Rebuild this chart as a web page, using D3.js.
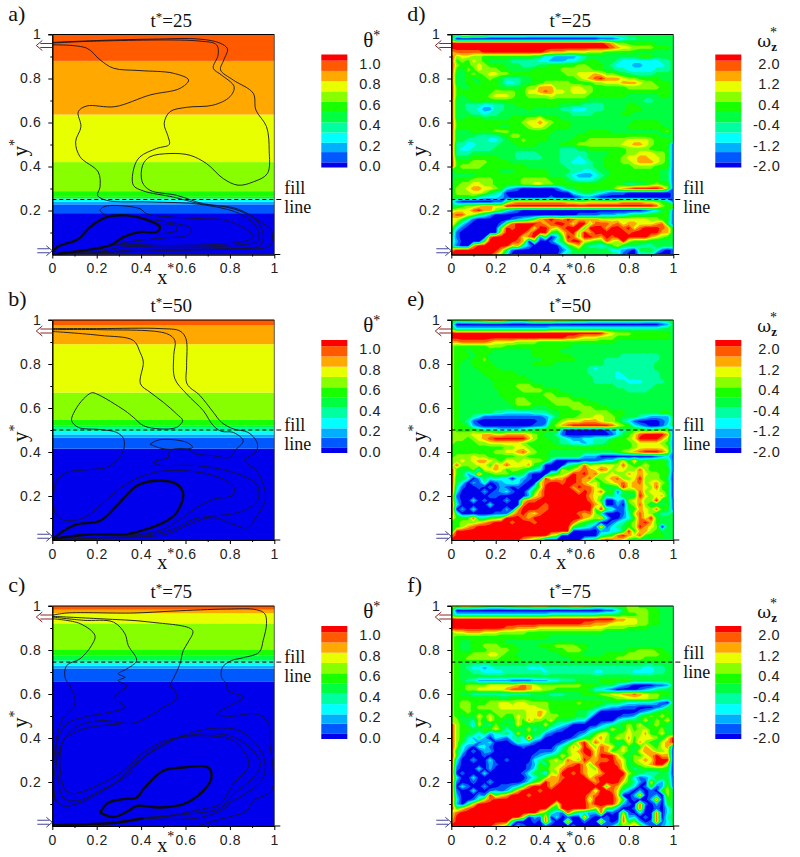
<!DOCTYPE html>
<html>
<head>
<meta charset="utf-8">
<script src="https://cdn.jsdelivr.net/npm/d3@7"></script>
<style>
  html, body { margin: 0; background: #fff; }
  svg { display: block; }
  .num { font-family: "Liberation Sans", sans-serif; font-size: 14px; fill: #222; letter-spacing: 0.6px; }
  .serif { font-family: "Liberation Serif", serif; fill: #111; }
</style>
</head>
<body>
<svg id="chart" width="800" height="857"></svg>
<script>
// colour levels, bottom to top of the colourbars
const levelColors = ['#0000ec', '#0058ff', '#00b0ff', '#00ffff', '#00ffa0', '#00ff40',
  '#18ff00', '#88ff00', '#e8ff00', '#ffa800', '#ff5a00', '#ff0000'];
const levelEdges = [-0.01, 0.04, 0.14, 0.23, 0.33, 0.43, 0.53, 0.63, 0.73, 0.83, 0.93, 1.03, 1.09];
const thetaTicks = [0, 0.2, 0.4, 0.6, 0.8, 1];
const thetaLabels = ['0.0', '0.2', '0.4', '0.6', '0.8', '1.0'];
const omegaLabels = ['-2.0', '-1.2', '-0.4', '0.4', '1.2', '2.0'];

// theta bands: upper y of each colour level
const bandsA = [0.188, 0.228, 0.24, 0.25, 0.255, 0.262, 0.288, 0.42, 0.636, 0.88, 1];
const bandsB = [0.415, 0.465, 0.48, 0.495, 0.51, 0.52, 0.546, 0.67, 0.89, 0.975, 1];
const bandsC = [0.655, 0.716, 0.728, 0.743, 0.754, 0.774, 0.803, 0.921, 0.967, 0.983, 1];

// streamlines [x, y]
const linesA = [
  [[0,.964],[.215,.973],[.455,.979],[.665,.979],[.755,.961],[.789,.935],[.773,.885],[.758,.839],[.815,.793],[.905,.733],[.917,.657],[.965,.581],[.977,.474],[.969,.368],[.905,.33],[.837,.315],[.77,.345],[.695,.413],[.62,.451],[.53,.459],[.44,.444],[.407,.406],[.405,.33],[.44,.292],[.56,.269],[.68,.231],[.815,.213],[.882,.185],[.95,.14],[.987,.109],[.98,.041],[.815,.026],[.515,.018],[.29,.011],[.065,.003],[0,0]],
  [[0,.961],[.2,.97],[.665,.97],[.74,.953],[.747,.907],[.725,.847],[.762,.816],[.819,.763],[.8,.717],[.725,.679],[.605,.669],[.53,.649],[.504,.596],[.522,.535],[.527,.5],[.47,.482],[.395,.444],[.369,.398],[.365,.315],[.41,.289],[.545,.261],[.665,.231],[.815,.208],[.92,.155],[.95,.094],[.935,.041],[.74,.026],[.365,.021],[.215,.008],[0,0]],
  [[0,.953],[.155,.938],[.215,.885],[.275,.847],[.395,.836],[.545,.824],[.614,.793],[.575,.755],[.44,.725],[.282,.672],[.155,.675],[.117,.649],[.129,.581],[.105,.512],[.125,.444],[.207,.375],[.215,.307],[.204,.269],[.245,.246],[.44,.239],[.665,.228],[.845,.185],[.92,.125],[.927,.064],[.815,.041],[.515,.033],[.335,.036],[.215,.015],[.005,.003]],
  [[.252,.173],[.215,.2],[.23,.216],[.275,.223],[.395,.208],[.425,.185],[.545,.17],[.665,.163],[.785,.155],[.882,.109],[.905,.079],[.845,.056],[.515,.041],[.335,.046],[.26,.041]],
  [[.41,.163],[.545,.143],[.627,.117],[.605,.087],[.515,.076],[.365,.061],[.26,.041]],
  [[.485,.14],[.552,.132],[.56,.109],[.47,.094]]
];
const thickA = [[.005,.011],[.02,.033],[.117,.071],[.17,.125],[.245,.17],[.335,.178],[.41,.163],[.485,.125],[.47,.102],[.395,.102],[.32,.079],[.26,.041],[.14,.018],[.02,.003]];

const linesB = [
  [[0,.961],[.215,.961],[.485,.961],[.575,.95],[.602,.915],[.605,.793],[.607,.71],[.665,.657],[.725,.581],[.762,.535],[.815,.505],[.882,.489],[.922,.444],[.92,.406],[.867,.36],[.92,.315],[.957,.231],[.957,.17],[.92,.109],[.882,.056],[.815,.071],[.725,.102],[.635,.079],[.515,.026],[.41,.015],[.215,.008],[0,.003]],
  [[0,.956],[.215,.956],[.515,.938],[.552,.907],[.547,.839],[.552,.733],[.605,.664],[.68,.588],[.725,.52],[.762,.494],[.815,.489],[.86,.451],[.822,.406],[.8,.375],[.725,.383],[.65,.391],[.605,.413],[.53,.406],[.522,.375],[.462,.357],[.462,.345],[.665,.337],[.815,.307],[.92,.254],[.927,.185],[.875,.14],[.8,.117],[.725,.109],[.635,.094],[.545,.049],[.41,.021],[.215,.011],[0,0]],
  [[.44,.436],[.485,.456],[.605,.444],[.632,.421],[.545,.413],[.485,.418],[.44,.436]],
  [[0,.948],[.215,.93],[.365,.907],[.395,.854],[.41,.809],[.397,.71],[.44,.672],[.5,.626],[.56,.573],[.587,.543],[.56,.512],[.485,.505],[.41,.52],[.365,.558],[.327,.588],[.2,.664],[.177,.669],[.14,.641],[.102,.588],[.087,.543],[.117,.512],[.215,.502],[.29,.489],[.322,.459],[.32,.406],[.29,.36],[.245,.33],[.155,.319],[.065,.307],[.02,.269],[.005,.185],[.02,.109],[.08,.087],[.155,.109],[.23,.17],[.32,.246],[.41,.292],[.515,.315],[.665,.307],[.785,.269],[.822,.231],[.807,.201],[.725,.185],[.65,.147],[.575,.094],[.5,.049],[.395,.026],[.215,.026],[.065,.011],[0,0]]
];
const thickB = [[.005,.006],[.05,.041],[.11,.071],[.215,.087],[.29,.155],[.38,.246],[.47,.269],[.56,.254],[.59,.208],[.56,.125],[.515,.087],[.425,.049],[.335,.026],[.185,.026],[.065,.015],[.005,.003]];

const linesC = [
  [[0,.958],[.065,.968],[.365,.968],[.545,.977],[.785,.986],[.92,.983],[.957,.965],[.965,.92],[.95,.844],[.932,.79],[.86,.765],[.807,.752],[.767,.722],[.762,.676],[.785,.646],[.792,.616],[.862,.585],[.815,.555],[.74,.509],[.8,.499],[.92,.509],[.972,.471],[.98,.372],[.995,.251],[.987,.16],[.905,.114],[.875,.068],[.815,.046],[.725,.023],[.665,.003]],
  [[0,.953],[.215,.942],[.44,.927],[.632,.889],[.612,.836],[.59,.798],[.575,.737],[.545,.669],[.53,.638],[.552,.616],[.56,.578],[.5,.54],[.44,.502],[.365,.467],[.215,.479],[.102,.448],[.05,.388],[.02,.296],[.005,.19],[.012,.129],[.05,.091],[.125,.106],[.215,.152],[.305,.213],[.38,.289],[.485,.357],[.605,.418],[.74,.445],[.845,.433],[.92,.372],[.957,.296],[.95,.22],[.89,.16],[.8,.106],[.77,.076],[.665,.038],[.515,.03],[.41,.035],[.29,.015],[0,.003]],
  [[0,.95],[.14,.935],[.275,.927],[.327,.874],[.342,.821],[.38,.752],[.335,.714],[.297,.692],[.327,.676],[.297,.661],[.335,.638],[.282,.585],[.327,.54],[.26,.517],[.14,.494],[.065,.464],[.02,.372],[.027,.22],[.05,.129],[.11,.114],[.215,.16],[.335,.228],[.41,.312],[.53,.388],[.665,.418],[.8,.41],[.89,.357],[.937,.281],[.905,.22],[.815,.144],[.755,.081],[.605,.053],[.41,.035]],
  [[0,.942],[.125,.92],[.192,.866],[.177,.821],[.125,.76],[.065,.73],[.057,.676],[.087,.623],[.102,.555],[.05,.494],[.02,.403],[.005,.251],[.012,.114]],
  [[.05,.175],[.087,.147],[.215,.19],[.32,.251],[.41,.334],[.53,.395],[.695,.41],[.815,.388],[.882,.304],[.882,.266],[.815,.19],[.755,.099],[.695,.081],[.515,.046],[.41,.038],[.215,.008]],
  [[.05,.175],[.035,.266],[.05,.388],[.117,.433],[.215,.456],[.3,.462]]
];
const thickC = [[.215,.061],[.252,.106],[.32,.122],[.38,.129],[.41,.167],[.5,.251],[.59,.266],[.702,.266],[.717,.22],[.68,.16],[.59,.099],[.485,.084],[.38,.091],[.342,.068],[.275,.041],[.215,.061]];
const floorC = [[0,.003],[.14,.008],[.29,.015],[.41,.035]];

// vorticity level per grid node (0-b), rows from y=1 down to y=0 in 0.02 steps, x in 0.025 steps
const omegaD = [
"6699888666 6666555555 5555555555 5555555555 6",
"5000000000 0000000000 0000000111 2344555555 5",
"bbbbbbbbbb bbbbbbbbbb bbbbbbbba9 7766666555 5",
"bbbbbbbbbb bbbbbbbbbb bbbbbbbbba 9887777666 5",
"9aaaaabbbb bbbbbbba99 9888877766 6666555555 5",
"b788776666 6666655332 2223455555 5555666555 5",
"b676876555 5444443322 2334566555 4333333344 5",
"b766787666 5554445566 6667766654 3332233334 5",
"b657687776 6555566666 7777776655 4433333444 5",
"b556767887 7666666666 6778889877 6554444555 5",
"b556566765 4445566666 666789ab99 9877666655 5",
"b556656665 3345566777 7766667788 8999877666 5",
"b655666665 5556779997 7788776666 6677777766 5",
"b666666677 7766889a98 8788876666 6666666666 5",
"b656666788 8766777787 7777766666 6655555566 5",
"b555666666 6666666666 6666655555 5555544555 5",
"b554443344 5566666666 5555444455 5566555555 5",
"b554432244 5555655555 4433344455 5566655555 5",
"b555443445 5555555555 5544445555 5665555555 5",
"b556665555 5666778666 5555555555 5555555555 5",
"b666666666 6667889876 6655555555 5556666655 5",
"b666666665 5666788766 6655555555 5566666665 5",
"b555666677 7666666665 5555566665 5555555567 5",
"b555544445 6776666655 5556666666 6666666655 5",
"b554444334 5667666655 5566677777 7788887666 5",
"b443344445 5566665555 6667777777 7889987666 1",
"b433444455 5555555555 4445566666 6677776666 1",
"b444555555 5544445555 4444455556 6677888776 1",
"b555666665 5544444555 4443455566 6788998876 1",
"b666777666 6555555555 4433345566 6778999876 1",
"b677776666 6666555555 5444445566 6667777666 1",
"5666666665 5566666655 5544334556 6666666655 1",
"5555566666 6666666655 5432223456 6666666655 1",
"5666777766 6667777766 6543334566 6666666655 1",
"5677887766 6667788776 6666666666 6544556766 1",
"5778998876 3210000001 3556666666 89abbbbba7 1",
"5777887543 0000000000 0034554321 1100000000 1",
"6666643332 1000000010 0001221000 0000000000 1",
"4100000011 5899999999 9887788888 8999988765 1",
"5567789988 bbbbbbbbbb bbbbbbbbbb bbbbbbba76 7",
"7888ab9976 3210000000 0000000000 0000012356 1",
"9aa8754200 0000000000 0001111222 3345556666 1",
"8864100000 0123469aba 9ba9999888 8888887766 1",
"9631000001 6abbbba9ab ba8bb7aaa9 a8998889a5 1",
"7310000006 babbb8bb98 abbb6bbb9b bab8abbba9 5",
"6100000008 bbbb9bbb65 8ab7b9bbbb bbabbbbb99 5",
"5100000abb bbb8ab2602 6ba7bba9ba bbbbbb9876 5",
"4200006bbb bba9060014 5abb8766a8 7b76665555 5",
"41009bbbbb b894200000 3579544346 8555444555 5",
"9bbbbbbbb9 5100000000 1356555553 3210555410 1",
"bbbbbbbb97 3000000000 3455555555 4100344000 1"
];
const omegaE = [
"6677889aaa 8666899998 8877766666 6666655555 5",
"5000000000 0000000000 0000000000 0000000012 5",
"6333333333 3333333344 4444444444 4444444455 5",
"bbbbbbbbbb bbbbbbbbbb bbbbbbbb98 7776666666 5",
"bbbbbbbbbb bbbbbbbbbb baa9888777 6666666666 5",
"99aaaaa988 8877776666 6666666666 5555555555 5",
"7666666777 6666666666 6655555555 5555555555 5",
"7665666655 5555566666 5555555555 5555555555 5",
"7666566555 5555566666 6655555555 5444444455 5",
"7665667555 5555555666 6665555544 4444444455 5",
"7655666655 5555566665 5555555544 4444444555 5",
"7655566665 5555555555 5555543444 4444444555 5",
"7655556666 6655555555 5555544444 3444444455 5",
"7655555666 6666555555 5555554444 3344444455 5",
"7655555566 6666655555 5555554444 4433344445 5",
"7655555566 6677766555 5555555555 4444444555 5",
"7655555556 6667777666 5555555555 5544445555 5",
"7655555556 6666666776 6655555555 5555555555 5",
"7655555555 6677666677 7766655555 5555555555 5",
"7655555555 5677766667 7777666555 5555555555 5",
"7655555555 5566655566 6677776665 5555555555 5",
"7655555544 3333344455 6666777776 6655555566 5",
"7655431111 1111111235 6667778877 6555432222 5",
"7654100000 0000001156 7888999877 6431000012 5",
"7665210000 0000011267 9abbbbbbba 8763210013 5",
"7666654443 3334556666 2000000012 3456655666 1",
"7777889988 9999876554 1000000001 3568abbbb9 1",
"7776789abb bbbb976655 4322334445 6678bbbb97 1",
"7666677888 8887666665 4433234456 6667888876 1",
"6666666666 7788766666 6666666666 6667888887 1",
"6666666677 889a876655 5555555555 6789abbba8 1",
"6777877666 6677666655 5555222000 0000000123 1",
"7787899876 8878877630 0000111233 6859566665 1",
"7a77788698 a888965000 0456a78888 7a76686665 1",
"b655738898 6776543000 8679a98a97 8877a76666 1",
"b6524a5677 7655100056 78bab9a778 7798987766 0",
"b554025343 3032100b89 9bba9a6789 a778b77765 0",
"b530214012 3431008abb abba978678 9a89a78976 0",
"b410010102 1010047bbb bb9baa8655 6b89987a66 0",
"b300002012 3100369bbb bbb9ba8a66 1566a78876 0",
"a100000110 0000289bbb bbbbb98745 3655b87896 0",
"a200301000 2008aabbbb bbbbba8600 3178977b56 1",
"b300000300 000abbbabb bbbbbb9800 2067a75556 1",
"b020300000 209bbbaabb bbbbbb6b54 1156987a66 1",
"b400000011 18ab98abbb bbba9a7300 0148a87544 5",
"9666a44667 bbba9bbbbb bbbb987a30 0236a8b655 5",
"6677789abb babbbabbbb bba7654001 3467ab9655 5",
"6679abbbbb bbbbbbbbbb bb65431a13 4567b98705 5",
"4bbbbbbbbb bbbbbbbbbb bb00000223 35b6997655 5",
"9bbbbbbbbb bbbbbbbb87 0000000456 ab98a66665 5",
"bbbbbbbbbb bbb9865000 0000456aba 9865555555 5"
];
const omegaF = [
"7799887666 7788899977 8899886666 6677666555 5",
"6000000000 0000000000 0000000011 3577776655 5",
"5333333333 3333333344 4444444555 5666776655 5",
"bbbbbbbbbb bbbbbbbbbb bbbbbbbbbb 9988776655 5",
"bbbbbbbbbb bbbbbbbbbb bbbbaa9998 8888776655 5",
"bbbbbbbbbb aa99998888 8888888877 7766665555 5",
"7889998887 7777666666 6666666655 5555555555 5",
"7666666666 6666666655 5555555555 5555555555 5",
"7655666666 5555555555 5555555555 5555555555 5",
"7655667776 6655556667 7776655555 5555555555 5",
"7655666777 7665555566 6777655555 5566777665 5",
"7666777887 6655555555 6666555566 6677777766 5",
"7667777776 6665555555 5566666666 7777766666 5",
"7655555555 5555555555 5555555555 5555555555 5",
"7654332344 4444333444 4444444444 4444433445 5",
"7655443333 4444444344 4444443344 4443333445 5",
"7655555555 5555555555 5555555555 5555555555 5",
"7654422222 2111122233 4445555666 6665555555 5",
"7667777888 889a987777 7777666555 3210000112 5",
"7667788888 9aaa988776 6666653321 0000123455 5",
"7655444444 4444455544 4555666778 899a987766 5",
"7666666665 5666655555 5555555566 7788887755 5",
"7677666778 8788777766 6667666655 5433333210 5",
"7677677778 8888887766 6666665432 2111000125 5",
"7667666677 7777889866 6665543000 0000123566 5",
"7656586867 6687889777 6665530000 0112567676 5",
"7755475866 5586977685 5543300000 3455585768 5",
"b765285475 6586565854 3200000234 5676856765 5",
"b766556686 3655845532 1000023458 6586786675 5",
"b765535234 5385655210 0001246885 6787796685 5",
"b764252032 1443b43000 0013568976 8796888758 b",
"b753412300 0143310000 1369b7a876 5586976589 b",
"b732033100 0001000002 4697b97a98 5865697689 1",
"b530102200 0000001113 5789bb8a96 7865899778 0",
"b610001000 0000012345 8688ab8bbb 8657689b99 0",
"b300200300 1000034678 6a87b99aab 9857898bbb 0",
"b200000210 0000126477 89ab97abbb a856789bb7 0",
"b100030200 0000136678 9bbb987bbb b864566666 0",
"b010003000 0001355287 bbab9889bb bb76544455 0",
"b300300000 0000235799 abbbb8abbb ba63123655 1",
"b100100200 0001367b99 bbbbbb9bbb b864208426 1",
"b031002001 1236abbb9b bbbbbbbb6a 9653016127 1",
"b100300121 259bbbabbb bbbbbb7bba 8420201067 5",
"b200021b68 9bbbabbbbb bbbbb9abbb 8002a01207 5",
"b300148abb bbbbbbbbbb bbbbb7bbbb 9601002a06 5",
"b2048bbbbb bbbbbbbbb7 bbbbb9bbbb 8210a10205 5",
"b68abbbbbb bbbbbbbb65 bbbbb97a65 2001a00103 5",
"8abbbbbbbb bbbbbb8642 1a64322a01 0810300a03 5",
"8bbbbbbbbb bbb8021a03 0100a10010 0a23010a04 5",
"9bbbbbbbbb b400010a20 0a00100a10 1a57201a13 5",
"bbbbbbbb98 6021000100 0010000012 5789731023 5"
];

const svg = d3.select('#chart');
const w = 222, h = 220;
const x = d3.scaleLinear().domain([0, 1]).range([0, w]);
const y = d3.scaleLinear().domain([0, 1]).range([h, 0]);
const line = d3.line().x(d => x(d[0])).y(d => y(d[1])).curve(d3.curveCatmullRom.alpha(0.5));
const barY = d3.scaleLinear().domain([-0.01, 1.09]).range([133, 20]);

// grid nodes sit at cell centres in d3.contours
const cols = 41, rows = 51;
const gx = d3.scaleLinear().domain([0.5, cols - 0.5]).range([0, w]);
const gy = d3.scaleLinear().domain([0.5, rows - 0.5]).range([0, h]);
const gridPath = d3.geoPath(d3.geoTransform({
  point(a, b) { this.stream.point(gx(a), gy(b)); }
}));

function drawField(g, grid) {
  const values = grid.join('').replace(/ /g, '').split('').map(c => parseInt(c, 16));
  const thresholds = d3.range(0.5, 11, 1);
  const contours = d3.contours().size([cols, rows]).smooth(true).thresholds(thresholds)(values);
  g.append('rect').attr('width', w).attr('height', h).attr('fill', levelColors[0]);
  g.selectAll('path.field').data(contours).join('path')
    .attr('class', 'field')
    .attr('d', gridPath)
    .attr('fill', (d, i) => levelColors[i + 1]);
}

function drawBands(g, bands) {
  g.selectAll('rect.band').data(bands).join('rect')
    .attr('class', 'band')
    .attr('x', 0)
    .attr('width', w)
    .attr('y', d => y(d))
    .attr('height', (d, i) => y(i ? bands[i - 1] : 0) - y(d))
    .attr('fill', (d, i) => levelColors[i]);
}

function drawArrows(g) {
  const inlet = d3.path();
  const yr = y(0.95);
  inlet.moveTo(x(0), yr - 2); inlet.lineTo(-12, yr - 2);
  inlet.moveTo(x(0), yr + 2); inlet.lineTo(-12, yr + 2);
  inlet.moveTo(-10, yr - 5); inlet.lineTo(-16, yr); inlet.lineTo(-10, yr + 5);
  g.append('path').attr('d', inlet.toString()).attr('fill', 'none').attr('stroke', '#7a1010').attr('stroke-width', 0.9);

  const outlet = d3.path();
  const yb = y(0.017);
  outlet.moveTo(-15, yb - 2); outlet.lineTo(-3, yb - 2);
  outlet.moveTo(-15, yb + 2); outlet.lineTo(-3, yb + 2);
  outlet.moveTo(-6, yb - 5); outlet.lineTo(0, yb); outlet.lineTo(-6, yb + 5);
  g.append('path').attr('d', outlet.toString()).attr('fill', 'none').attr('stroke', '#30308c').attr('stroke-width', 0.9);
}

function drawAxes(g) {
  const fmt = d => (d === 0 || d === 1 ? String(d) : d3.format('.1f')(d));
  const majors = [0, 0.2, 0.4, 0.6, 0.8, 1];
  const minors = d3.range(1, 10, 2).map(d => d / 10);

  g.append('g').attr('transform', `translate(0,${h})`)
    .call(d3.axisBottom(x).tickValues(minors).tickSize(2).tickSizeOuter(0).tickFormat(''));
  g.append('g').call(d3.axisLeft(y).tickValues(minors).tickSize(2).tickSizeOuter(0).tickFormat(''));

  const bottom = g.append('g').attr('transform', `translate(0,${h})`)
    .call(d3.axisBottom(x).tickValues(majors).tickSize(4).tickPadding(5).tickSizeOuter(0).tickFormat(fmt));
  const left = g.append('g')
    .call(d3.axisLeft(y).tickValues(majors.slice(1)).tickSize(4).tickPadding(7).tickSizeOuter(0).tickFormat(fmt));
  [bottom, left].forEach(a => {
    a.selectAll('text').attr('class', 'num').attr('fill', null).attr('font-size', null).attr('font-family', null);
    a.selectAll('line,path').attr('stroke', '#000');
  });

  g.append('line').attr('x1', w).attr('x2', w + 6).attr('y1', h).attr('y2', h).attr('stroke', '#000');
  g.append('line').attr('x1', 0).attr('x2', w).attr('y1', 0).attr('y2', 0).attr('stroke', '#000');
  g.append('line').attr('x1', w).attr('x2', w).attr('y1', 0).attr('y2', h).attr('stroke', '#222').attr('stroke-width', 0.7);
  g.append('line').attr('x1', -4).attr('x2', 0).attr('y1', 0).attr('y2', 0).attr('stroke', '#000');
}

function drawColorbar(g, labels, isOmega) {
  const barX = isOmega ? 264 : 269;
  for (let i = 0; i < levelColors.length; i++) {
    g.append('rect')
      .attr('x', barX)
      .attr('width', 26)
      .attr('y', barY(levelEdges[i + 1]))
      .attr('height', barY(levelEdges[i]) - barY(levelEdges[i + 1]))
      .attr('fill', levelColors[i]);
  }
  g.selectAll('text.barlabel').data(thetaTicks).join('text')
    .attr('class', 'num barlabel')
    .attr('x', 329)
    .attr('y', d => barY(d) + 5)
    .attr('text-anchor', 'end')
    .style('font-size', '14.5px')
    .text((d, i) => labels[i]);

  const title = g.append('text').attr('class', 'serif').attr('y', 12).style('font-size', '20px');
  if (isOmega) {
    title.attr('x', 306);
    title.append('tspan').text('\u03c9').style('font-family', '"DejaVu Serif", serif').style('font-size', '17px');
    title.append('tspan').text('z').attr('dy', 4).style('font-size', '13px').style('font-weight', 'bold');
    title.append('tspan').text('*').attr('dy', -14).attr('dx', -7).style('font-size', '14px');
  } else {
    title.attr('x', 311);
    title.append('tspan').text('\u03b8').style('font-size', '21px');
    title.append('tspan').text('*').attr('dy', -7).style('font-size', '14px');
  }
}

function drawText(g, p) {
  g.append('text').attr('class', 'serif').attr('x', -44).attr('y', -14).style('font-size', '22px').text(p.letter);

  const title = g.append('text').attr('class', 'serif').attr('x', 119).attr('y', -8)
    .attr('text-anchor', 'middle').style('font-size', '19px');
  title.append('tspan').text('t');
  title.append('tspan').text('*').attr('dy', -6).style('font-size', '13px');
  title.append('tspan').text('=' + p.time).attr('dy', 6);

  const xl = g.append('text').attr('class', 'serif').attr('x', 105).attr('y', h + p.xDy).style('font-size', '20px');
  xl.append('tspan').text('x');
  xl.append('tspan').text('*').attr('dy', -11).style('font-size', '14px');

  const yl = g.append('text').attr('class', 'serif')
    .attr('transform', `translate(-25,${h / 2 + 12}) rotate(-90)`).style('font-size', '21px');
  yl.append('tspan').text('y');
  yl.append('tspan').text('*').attr('dy', -8).style('font-size', '14px');

  const yFill = y(p.fill);
  g.append('line').attr('x1', 0).attr('x2', w).attr('y1', yFill).attr('y2', yFill)
    .attr('stroke', '#000').attr('stroke-dasharray', '4,3');
  g.append('line').attr('x1', w + 2).attr('x2', w + 7).attr('y1', yFill).attr('y2', yFill).attr('stroke', '#000');
  g.append('text').attr('class', 'serif').attr('x', w + 10).attr('y', yFill + p.fillDy).style('font-size', '18px').text('fill');
  g.append('text').attr('class', 'serif').attr('x', w + 10).attr('y', yFill + p.fillDy + 19).style('font-size', '18px').text('line');
}

const thetaPanels = [
  { letter: 'a)', time: 25, top: 34.5, xDy: 29, fill: 0.25, fillDy: -6, bands: bandsA, lines: linesA, thick: [thickA] },
  { letter: 'b)', time: 50, top: 320, xDy: 29, fill: 0.5, fillDy: 1, bands: bandsB, lines: linesB, thick: [thickB] },
  { letter: 'c)', time: 75, top: 606, xDy: 26, fill: 0.745, fillDy: 1, bands: bandsC, lines: linesC, thick: [thickC, floorC] }
];
const omegaPanels = [
  { letter: 'd)', time: 25, top: 34.5, xDy: 29, fill: 0.25, fillDy: -6, grid: omegaD },
  { letter: 'e)', time: 50, top: 320, xDy: 29, fill: 0.5, fillDy: 1, grid: omegaE },
  { letter: 'f)', time: 75, top: 606, xDy: 26, fill: 0.745, fillDy: -3, grid: omegaF }
];

svg.append('defs').append('clipPath').attr('id', 'plot-clip')
  .append('rect').attr('width', w).attr('height', h);

thetaPanels.forEach(p => {
  const g = svg.append('g').attr('transform', `translate(52.3,${p.top})`);
  drawBands(g, p.bands);
  const clip = g.append('g').attr('clip-path', 'url(#plot-clip)');
  clip.selectAll('path.thin').data(p.lines).join('path')
    .attr('class', 'thin').attr('d', line).attr('fill', 'none')
    .attr('stroke', '#14142e').attr('stroke-width', 0.9);
  clip.selectAll('path.thick').data(p.thick).join('path')
    .attr('class', 'thick').attr('d', line).attr('fill', 'none')
    .attr('stroke', '#0a0a14').attr('stroke-width', 2.4);
  drawAxes(g);
  drawArrows(g);
  drawText(g, p);
  drawColorbar(g, thetaLabels, false);
});

omegaPanels.forEach(p => {
  const g = svg.append('g').attr('transform', `translate(451.3,${p.top})`);
  drawField(g.append('g').attr('clip-path', 'url(#plot-clip)'), p.grid);
  drawAxes(g);
  drawArrows(g);
  drawText(g, p);
  drawColorbar(g, omegaLabels, true);
});
</script>
</body>
</html>
